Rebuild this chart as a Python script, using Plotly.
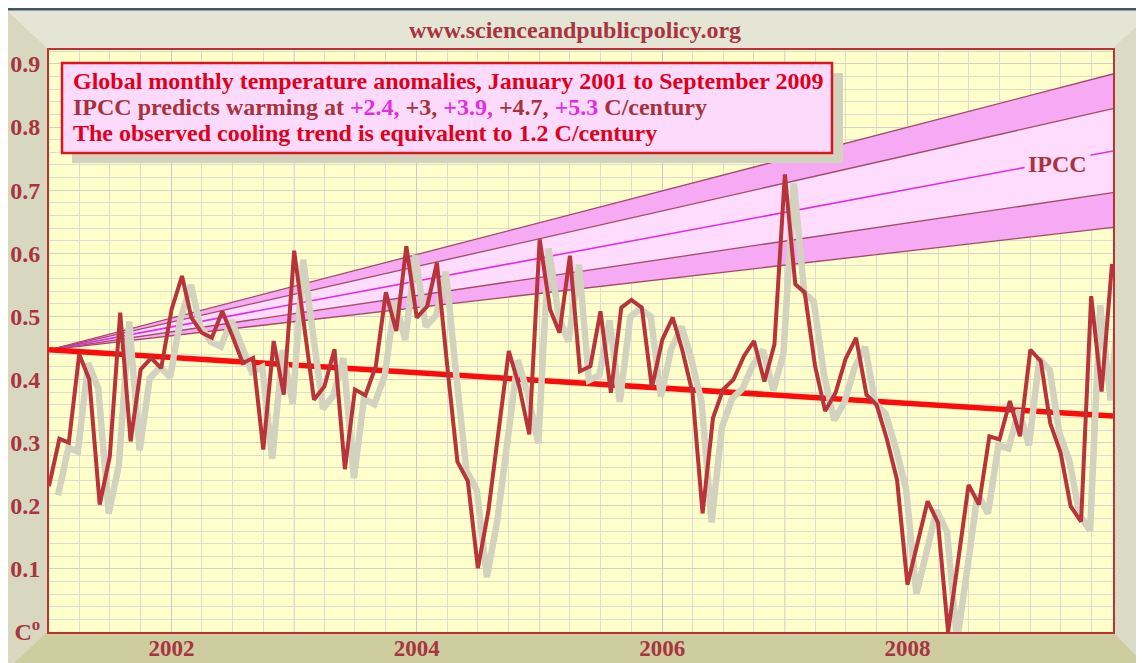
import plotly.graph_objects as go
import pandas as pd

# ---------------- data ----------------
anomalies = [
    0.231, 0.306, 0.300, 0.440, 0.400, 0.202, 0.278, 0.506, 0.302, 0.416, 0.434, 0.418,
    0.511, 0.564, 0.498, 0.474, 0.466, 0.508, 0.469, 0.426, 0.434, 0.289, 0.461, 0.376,
    0.604, 0.485, 0.368, 0.389, 0.448, 0.258, 0.384, 0.375, 0.421, 0.538, 0.477, 0.611,
    0.498, 0.516, 0.585, 0.420, 0.270, 0.239, 0.101, 0.191, 0.326, 0.445, 0.389, 0.313,
    0.622, 0.511, 0.474, 0.596, 0.413, 0.421, 0.508, 0.379, 0.514, 0.526, 0.514, 0.387,
    0.463, 0.498, 0.448, 0.379, 0.188, 0.339, 0.384, 0.400, 0.437, 0.461, 0.397, 0.456,
    0.725, 0.551, 0.538, 0.421, 0.350, 0.379, 0.433, 0.466, 0.376, 0.360, 0.305, 0.241,
    0.075, 0.141, 0.207, 0.173, 0.000, 0.117, 0.233, 0.202, 0.310, 0.305, 0.366, 0.310,
    0.447, 0.429, 0.331, 0.284, 0.199, 0.175, 0.532, 0.381, 0.583,
]
start_month = "2001-01-01"

ipcc_rates = ["+2.4", "+3", "+3.9", "+4.7", "+5.3"]      # C/century
ipcc_start = 0.447
ipcc_end = [0.641, 0.696, 0.762, 0.829, 0.884]           # value at right edge
trend_values = [0.447, 0.342]                             # observed trend, start / end
x_range = ["2001-01-01", "2009-09-04"]
y_range = [0.0, 0.922]

ytick_vals = [0.0, 0.1, 0.2, 0.3, 0.4, 0.5, 0.6, 0.7, 0.8, 0.9]
ytick_text = ["C<sup>o</sup>", "0.1", "0.2", "0.3", "0.4", "0.5", "0.6", "0.7", "0.8", "0.9"]
xtick_vals = ["2002-01-01", "2004-01-01", "2006-01-01", "2008-01-01"]
xtick_text = ["2002", "2004", "2006", "2008"]
odd_year_lines = ["2003-01-01", "2005-01-01", "2007-01-01", "2009-01-01"]

title_text = "www.scienceandpublicpolicy.org"
box_line1 = "Global monthly temperature anomalies, January 2001 to September 2009"
box_line3 = "The observed cooling trend is equivalent to 1.2 C/century"

# ---------------- styling ----------------
OFF = 8                      # page body margin
W, H = 1136, 655
ML, MR, MT, MB = 41, 31, 42, 31
PW, PH = W - ML - MR, H - MT - MB

SERIF = "Liberation Serif, Times New Roman, serif"
RED = "#e0001c"
BROWN = "#a8323c"
MAGENTA = "#e22ee2"
DATA_COL = "#b8343a"
SHADOW_COL = "#d2d2be"
PINK_DARK = "#f5aaf3"
PINK_LIGHT = "#fddcfd"
BAND_LINE = "#a44a66"
GRID_MAJOR = "#c9c9c6"
GRID_MINOR = "#dcdcd0"

def px(xp):      # page x -> paper
    return (xp - OFF - ML) / PW

def py(yp):      # page y -> paper
    return (MT + PH - (yp - OFF)) / PH

months = pd.date_range(start_month, periods=len(anomalies), freq="MS")

x0 = pd.Timestamp(x_range[0]); x1 = pd.Timestamp(x_range[1])
span = x1 - x0
dx = span * (9 / PW)
dy = (y_range[1] - y_range[0]) * (9 / PH)

fig = go.Figure()

# IPCC projection band
band_x = [x_range[0], x_range[1]]
fills = [None, PINK_DARK, PINK_LIGHT, PINK_LIGHT, PINK_DARK]
for k, end in enumerate(ipcc_end):
    mid = (k == 2)
    fig.add_trace(go.Scatter(
        x=band_x, y=[ipcc_start, end], mode="lines",
        line=dict(color=MAGENTA if mid else BAND_LINE, width=1.6 if mid else 1.3),
        fill=None if fills[k] is None else "tonexty",
        fillcolor=fills[k], hoverinfo="skip", showlegend=False,
        xaxis="x", yaxis="y"))

# observed trend
fig.add_trace(go.Scatter(
    x=band_x, y=trend_values, mode="lines",
    line=dict(color="#ff0a0a", width=5.5), showlegend=False,
    xaxis="x", yaxis="y"))

# shadow of the data line (overlay axis shifted right/down)
fig.add_trace(go.Scatter(
    x=months, y=anomalies, mode="lines",
    line=dict(color=SHADOW_COL, width=6.5), showlegend=False,
    xaxis="x2", yaxis="y2"))

# data line
fig.add_trace(go.Scatter(
    x=months, y=anomalies, mode="lines",
    line=dict(color=DATA_COL, width=4), showlegend=False,
    xaxis="x3", yaxis="y3"))

tickfont = dict(family=SERIF, size=24, color="#a83440")
xtickfont = dict(family=SERIF, size=23, color="#a83440")

fig.update_layout(
    width=W, height=H,
    margin=dict(l=ML, r=MR, t=MT, b=MB, autoexpand=False),
    paper_bgcolor="#e5e5d6",
    plot_bgcolor="#ffffcc",
    showlegend=False,
    xaxis=dict(
        type="date", range=x_range, tickvals=xtick_vals,
        ticktext=[f"<b>{t}</b>" for t in xtick_text],
        tickfont=xtickfont, ticks="", ticklabelstandoff=-6, automargin=False,
        showgrid=True, gridcolor=GRID_MAJOR, gridwidth=1,
        minor=dict(dtick="M3", tick0="2001-01-01", showgrid=True,
                   gridcolor=GRID_MINOR, gridwidth=1, ticks=""),
        showline=True, linecolor="#c0302e", linewidth=2, mirror=True,
        zeroline=False, fixedrange=True),
    yaxis=dict(
        range=y_range, tickvals=ytick_vals,
        ticktext=[f"<b>{t}</b>" for t in ytick_text],
        tickfont=tickfont, ticks="", ticklabelstandoff=2, automargin=False,
        showgrid=True, gridcolor="#d2d2c8", gridwidth=1,
        minor=dict(dtick=0.02, tick0=0, showgrid=True,
                   gridcolor=GRID_MINOR, gridwidth=1, ticks=""),
        showline=True, linecolor="#c0302e", linewidth=2, mirror=True,
        zeroline=False, fixedrange=True),
    xaxis2=dict(type="date", overlaying="x", range=[x0 - dx, x1 - dx],
                visible=False, fixedrange=True),
    yaxis2=dict(overlaying="y", range=[y_range[0] + dy, y_range[1] + dy],
                visible=False, fixedrange=True),
    xaxis3=dict(type="date", overlaying="x", range=x_range,
                visible=False, fixedrange=True),
    yaxis3=dict(overlaying="y", range=y_range, visible=False, fixedrange=True),
)

# yearly grid lines for unlabeled years
for d in odd_year_lines:
    fig.add_shape(type="line", xref="x", yref="paper", x0=d, x1=d, y0=0, y1=1,
                  line=dict(color=GRID_MAJOR, width=1), layer="below")

# ---------------- 3D frame decoration ----------------
def poly(points, color, layer="below"):
    path = "M " + " L ".join(f"{px(a)},{py(b)}" for a, b in points) + " Z"
    fig.add_shape(type="path", path=path, xref="paper", yref="paper",
                  fillcolor=color, line=dict(width=0), layer=layer)

poly([(7, 7), (1150, 7), (1150, 10.5), (7, 10.5)], "#44546a")
poly([(7, 10.5), (47, 48), (47, 634), (7, 670)], "#d8d8c1")          # left wall
poly([(47, 632), (1113, 632), (1150, 670), (7, 670)], "#cdcd9f")      # floor
poly([(1113, 48), (1150, 14), (1150, 670), (1113, 632)], "#dadac6")   # right wall

# text box with shadow
fig.add_shape(type="rect", xref="paper", yref="paper",
              x0=px(72), x1=px(843), y0=py(73), y1=py(163),
              fillcolor="#d3d3bd", line=dict(width=0), layer="above")
fig.add_shape(type="rect", xref="paper", yref="paper",
              x0=px(62), x1=px(832), y0=py(63), y1=py(153),
              fillcolor="#fcdafc", line=dict(color="#e0141c", width=2.5), layer="above")

line2 = (f'<span style="color:{BROWN}">IPCC predicts warming at </span>'
         f'<span style="color:{MAGENTA}">{ipcc_rates[0]},</span>'
         f'<span style="color:{BROWN}"> {ipcc_rates[1]},</span>'
         f'<span style="color:{MAGENTA}"> {ipcc_rates[2]},</span>'
         f'<span style="color:{BROWN}"> {ipcc_rates[3]},</span>'
         f'<span style="color:{MAGENTA}"> {ipcc_rates[4]}</span>'
         f'<span style="color:{BROWN}"> C/century</span>')

for txt, yy, col in [(f"<b>{box_line1}</b>", 81, RED),
                     (f"<b>{line2}</b>", 107, BROWN),
                     (f"<b>{box_line3}</b>", 133, RED)]:
    fig.add_annotation(x=px(71), y=py(yy), xref="paper", yref="paper",
                       xanchor="left", yanchor="middle", text=txt, showarrow=False,
                       font=dict(family=SERIF, size=24, color=col))

fig.add_annotation(x=px(575), y=py(30), xref="paper", yref="paper",
                   xanchor="center", yanchor="middle", text=f"<b>{title_text}</b>",
                   showarrow=False, font=dict(family=SERIF, size=24, color="#a83440"))

fig.add_annotation(x=px(1057), y=py(164), xref="paper", yref="paper",
                   xanchor="center", yanchor="middle", text="<b>IPCC</b>",
                   showarrow=False, bgcolor=PINK_LIGHT, borderpad=3,
                   font=dict(family=SERIF, size=24, color="#a83440"))

fig.write_html("out.html")
